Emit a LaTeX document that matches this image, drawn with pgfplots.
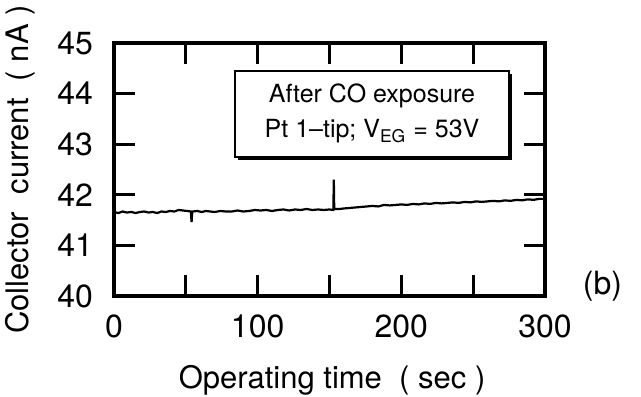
\documentclass[border=0pt]{standalone}
\usepackage{pgfplots}
\pgfplotsset{compat=1.18}
\usepackage{fontspec}
\setmainfont{TeX Gyre Heros}
\usetikzlibrary{shadows}
\begin{document}
\begin{tikzpicture}
\path[use as bounding box] (-57pt,-50pt) rectangle (263.5pt,148pt);
\begin{axis}[
  at={(0,0)}, anchor=south west,
  scale only axis, width=215.5pt, height=126.5pt,
  xmin=0, xmax=300, ymin=40, ymax=45,
  xtick={0,50,...,300},
  xticklabels={0,,100,,200,,300},
  ytick={40,41,...,45},
  tick align=inside,
  major tick length=10.5pt,
  every tick/.style={line width=1.6pt, black},
  axis line style={line width=2pt},
  /pgf/number format/assume math mode=true,
  tick label style={font=\fontsize{16}{18}\selectfont},
  xticklabel style={yshift=-6pt},
  yticklabel style={xshift=-7pt},
  xlabel={Operating time\ \ ( sec )},
  ylabel={Collector\ \ current\ \ ( nA )},
  label style={font=\fontsize{15.5}{17}\selectfont},
  xlabel style={at={(axis description cs:0.506,0)}, anchor=center, yshift=-42pt},
  ylabel style={at={(axis description cs:-0.218,0.5)}, anchor=center, rotate=0},
  clip=false,
]
\addplot[black, line width=1.1pt, mark=none] coordinates {
(0,41.66) (3,41.64) (6,41.67) (9,41.65) (12,41.66) (15,41.64) (18,41.66)
(21,41.67) (24,41.65) (27,41.66) (30,41.64) (33,41.67) (36,41.66) (39,41.68)
(42,41.67) (45,41.70) (48,41.69) (51,41.68) (53.5,41.67) (54,41.46) (54.5,41.67)
(58,41.68) (61,41.66) (64,41.68) (67,41.67) (70,41.66) (74,41.68) (78,41.67)
(82,41.67) (86,41.69) (90,41.67) (94,41.68) (98,41.70) (102,41.69) (106,41.70)
(110,41.68) (114,41.70) (118,41.71) (122,41.69) (126,41.71) (130,41.70)
(134,41.72) (138,41.70) (142,41.71) (146,41.70) (150,41.71) (152.7,41.70)
(153,42.30) (153.3,41.72) (157,41.72) (160,41.73) (164,41.74) (168,41.75)
(172,41.76) (176,41.77) (180,41.78) (184,41.77) (188,41.80) (192,41.79)
(196,41.80) (200,41.81) (204,41.80) (208,41.82) (212,41.81) (216,41.83)
(220,41.82) (224,41.84) (228,41.83) (232,41.84) (236,41.85) (240,41.84)
(244,41.86) (248,41.85) (252,41.87) (256,41.86) (260,41.87) (264,41.88)
(268,41.87) (272,41.89) (276,41.88) (280,41.90) (284,41.89) (288,41.91)
(292,41.90) (296,41.92) (300,41.92)
};
\node[draw, line width=1pt, fill=white, drop shadow={shadow xshift=1.6pt, shadow yshift=-1.6pt, opacity=1, fill=black},
  minimum width=137pt, minimum height=43pt, align=center,
  font=\fontsize{12.5}{17.5}\selectfont]
  at (axis cs:179.6,43.6) {After CO exposure\\Pt 1--tip; V\textsubscript{EG} = 53V};
\node[font=\fontsize{16}{18}\selectfont] at (axis cs:340,40.2) {(b)};
\end{axis}
\end{tikzpicture}
\end{document}
